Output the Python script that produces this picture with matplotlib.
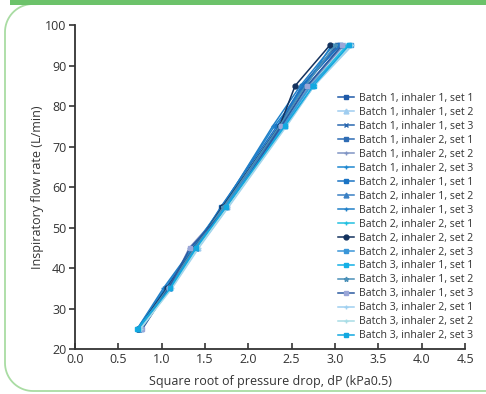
import matplotlib
matplotlib.use("Agg")
import numpy as np
import matplotlib.pyplot as plt
from matplotlib.lines import Line2D
from matplotlib.patches import Rectangle

# flow levels (L/min) shared by every series
flow = [25, 35, 45, 55, 75, 85, 95]

labels = [
    "Batch 1, inhaler 1, set 1", "Batch 1, inhaler 1, set 2", "Batch 1, inhaler 1, set 3",
    "Batch 1, inhaler 2, set 1", "Batch 1, inhaler 2, set 2", "Batch 1, inhaler 2, set 3",
    "Batch 2, inhaler 1, set 1", "Batch 2, inhaler 1, set 2", "Batch 2, inhaler 1, set 3",
    "Batch 2, inhaler 2, set 1", "Batch 2, inhaler 2, set 2", "Batch 2, inhaler 2, set 3",
    "Batch 3, inhaler 1, set 1", "Batch 3, inhaler 1, set 2", "Batch 3, inhaler 1, set 3",
    "Batch 3, inhaler 2, set 1", "Batch 3, inhaler 2, set 2", "Batch 3, inhaler 2, set 3",
]

# square root of pressure drop, one list per series
sqrt_dp = [
    [0.74, 1.06, 1.40, 1.72, 2.36, 2.62, 3.02],
    [0.76, 1.10, 1.42, 1.76, 2.42, 2.74, 3.12],
    [0.73, 1.05, 1.38, 1.70, 2.35, 2.64, 3.04],
    [0.74, 1.07, 1.37, 1.71, 2.37, 2.63, 3.05],
    [0.77, 1.09, 1.32, 1.74, 2.40, 2.70, 3.10],
    [0.72, 1.04, 1.36, 1.69, 2.30, 2.66, 2.96],
    [0.73, 1.05, 1.39, 1.68, 2.33, 2.62, 3.06],
    [0.74, 1.08, 1.40, 1.72, 2.38, 2.68, 3.08],
    [0.72, 1.02, 1.36, 1.70, 2.28, 2.60, 2.98],
    [0.75, 1.10, 1.41, 1.75, 2.40, 2.72, 3.14],
    [0.73, 1.06, 1.38, 1.70, 2.36, 2.54, 2.94],
    [0.74, 1.10, 1.40, 1.73, 2.40, 2.72, 3.18],
    [0.72, 1.09, 1.40, 1.74, 2.42, 2.76, 3.16],
    [0.74, 1.07, 1.38, 1.71, 2.36, 2.66, 3.00],
    [0.78, 1.08, 1.33, 1.76, 2.38, 2.68, 3.08],
    [0.75, 1.12, 1.43, 1.77, 2.44, 2.76, 3.20],
    [0.76, 1.11, 1.42, 1.76, 2.43, 2.75, 3.18],
    [0.73, 1.10, 1.40, 1.74, 2.42, 2.75, 3.16],
]

colors = ["#1f5aa8", "#9fcdf0", "#2a68b0", "#2e6cb4", "#8094c4", "#1f88d0",
          "#1b74c4", "#3a80c4", "#2180c8", "#22c0e0", "#14325e", "#3a96d8",
          "#14b0e6", "#4a90b8", "#2b5aa0", "#9fd0f0", "#a8dde6", "#12a8e0"]
markers = ["s", "^", "x", "s", "+", "+", "s", "^", "+",
           "+", "o", "s", "s", "*", "s", "+", "+", "s"]
marker_faces = list(colors)
marker_faces[14] = "#9aa6d8"

plt.rcParams["font.family"] = ["Open Sans", "DejaVu Sans"]

W, H = 486, 394
fig = plt.figure(figsize=(W / 100, H / 100), dpi=100)

# green frame: left half of a rounded box, drawn in figure fractions
r = 28
x0, yb, yt = 5, 3, 390
t = np.linspace(0, np.pi / 2, 20)
top_x = np.concatenate([[W], x0 + r - r * np.sin(t)])
top_y = np.concatenate([[yt], yt - r + r * np.cos(t)])
bot_x = np.concatenate([x0 + r - r * np.cos(t), [W]])
bot_y = np.concatenate([yb + r - r * np.sin(t), [yb]])
fx = np.concatenate([top_x, bot_x]) / W
fy = np.concatenate([top_y, bot_y]) / H
fig.add_artist(Line2D(fx, fy, transform=fig.transFigure, color="#a9dca3",
                      linewidth=1.3, zorder=0))
fig.add_artist(Rectangle((10 / W, 389 / H), 480 / W, 6 / H,
                         transform=fig.transFigure, facecolor="#6cc26a",
                         edgecolor="none", zorder=1))

ax = fig.add_axes([0.154, 0.114, 0.803, 0.8225])

for xs, lab, c, m, mf in zip(sqrt_dp, labels, colors, markers, marker_faces):
    ax.plot(xs, flow, color=c, marker=m, markersize=3.5, markerfacecolor=mf,
            markeredgecolor=mf, linewidth=1.1, label=lab)

ax.set_xlim(0, 4.5)
ax.set_ylim(20, 100)
ax.set_xticks([0, 0.5, 1.0, 1.5, 2.0, 2.5, 3.0, 3.5, 4.0, 4.5])
ax.set_yticks(range(20, 101, 10))
ax.xaxis.set_major_formatter(plt.FormatStrFormatter("%.1f"))
for s in ["top", "right"]:
    ax.spines[s].set_visible(False)
for s in ["left", "bottom"]:
    ax.spines[s].set_linewidth(1.3)
    ax.spines[s].set_color("#333333")
ax.tick_params(axis="x", direction="in", length=4, width=1.2, labelsize=9,
               colors="#333333", pad=3)
ax.tick_params(axis="y", direction="out", length=4, width=1.2, labelsize=9,
               colors="#333333", pad=2)

ax.set_xlabel("Square root of pressure drop, dP (kPa0.5)", fontsize=9,
              color="#333333", labelpad=6)
ax.set_ylabel("Inspiratory flow rate (L/min)", fontsize=9, color="#333333",
              labelpad=1)

ax.legend(loc="upper left", bbox_to_anchor=(338 / W, 1 - 93 / H),
          bbox_transform=fig.transFigure, frameon=False, fontsize=7.6,
          borderpad=0, borderaxespad=0, handlelength=1.5, handletextpad=0.45,
          labelspacing=0.28, labelcolor="#333333")

fig.savefig("out.png", dpi=100)
